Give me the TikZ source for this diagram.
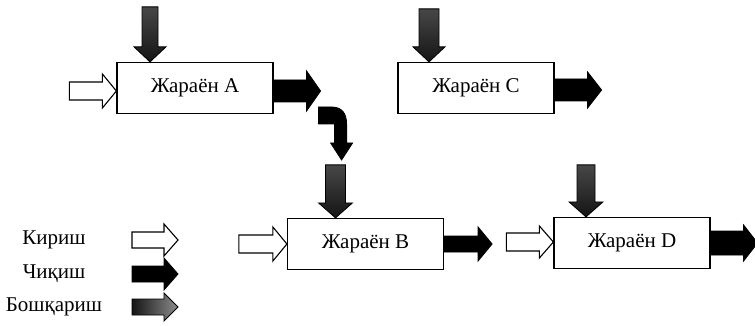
\documentclass[tikz,border=0pt]{standalone}
\usepackage{fontspec}
\setmainfont{Liberation Serif}
\usetikzlibrary{calc}
% right-pointing block arrow: style, tip, length, head half width, shaft half width
\newcommand\rarr[5]{\draw[#1] (#2) -- ++(-14,-#4) -- ++(0,{#4-#5}) -- ++({14-#3},0) -- ++(0,{2*#5}) -- ++({#3-14},0) -- ++(0,{#4-#5}) -- cycle;}
% down-pointing block arrow
\newcommand\darr[5]{\draw[#1] (#2) -- ++(-#4,-15) -- ++({#4-#5},0) -- ++(0,{15-#3}) -- ++({2*#5},0) -- ++(0,{#3-15}) -- ++({#4-#5},0) -- cycle;}
\begin{document}
\begin{tikzpicture}[x=1pt,y=-1pt,
  proc/.style={draw, line width=1.2pt, minimum width=156pt, minimum height=51pt, inner sep=0pt, font=\fontsize{21}{24}\selectfont},
  inarr/.style={draw, fill=white, line width=1.1pt, line join=miter},
  outarr/.style={draw, fill=black, line width=0.8pt, line join=miter},
  ctrlarr/.style={draw, top color=black!72, bottom color=black!92, line width=0.8pt, line join=miter},
  legctrl/.style={draw, left color=black!92, right color=black!45, line width=0.8pt, line join=miter},
  legtext/.style={font=\fontsize{21}{24}\selectfont}]
\useasboundingbox (0,0) rectangle (755,326);

\node[proc] (A) at (195,88) {\raisebox{2pt}{Жараён A}};
\node[proc] (C) at (476,88) {\raisebox{2pt}{Жараён C}};
\node[proc] (B) at (365.5,244) {Жараён B};
\node[proc] (D) at (632,243) {Жараён D};

% process A
\rarr{inarr}{$(A.west)+(0,3)$}{47}{17}{9}
\darr{ctrlarr}{$(A.north)+(-45,0)$}{55}{16}{8}
\rarr{outarr}{$(A.east)+(47,3)$}{47}{20}{11}

% process C
\darr{ctrlarr}{$(C.north)+(-47,0)$}{53}{16}{10}
\rarr{outarr}{$(C.east)+(47,2)$}{47}{18}{11}

% process B
\darr{ctrlarr}{$(B.north)+(-30,0)$}{53}{17}{10}
\rarr{inarr}{$(B.west)+(0,0)$}{48}{17}{9}
\rarr{outarr}{$(B.east)+(48,0)$}{48}{17}{8}

% process D
\darr{ctrlarr}{$(D.north)+(-46,0)$}{52}{17}{9}
\rarr{inarr}{$(D.west)+(0,-1)$}{47}{16}{9}
\rarr{outarr}{$(D.east)+(47,0)$}{47}{18}{12}

% curved output of A feeding B's control
\coordinate (bend) at ($(A.east)+(45,19)$);
\draw[outarr] (bend) -- ++(13,0) .. controls +(10,0) and +(0,-11) .. ++(15,17)
  -- ++(0,19) -- ++(6,0) -- ++(-11,17) -- ++(-11,-17) -- ++(4,0) -- ++(0,-19) -- ++(-16,0) -- cycle;

% legend
\node[legtext] (lk) at (54,240) {Кириш};
\node[legtext] (lc) at (54,274) {Чиқиш};
\node[legtext] (lb) at (54,307) {Бошқариш};
\rarr{inarr}{$(lk)+(124,0)$}{46}{16}{8}
\rarr{outarr}{$(lc)+(124,0)$}{46}{16}{8}
\rarr{legctrl}{$(lb)+(124,0)$}{46}{14}{8}
\end{tikzpicture}
\end{document}
